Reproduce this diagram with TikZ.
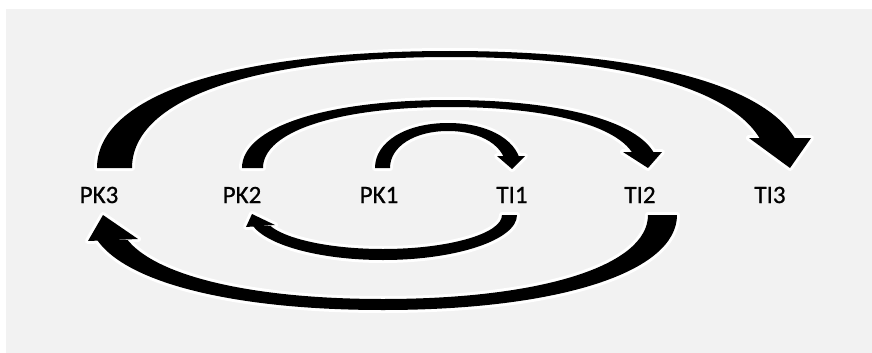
\documentclass[tikz,border=0pt]{standalone}
\usepackage{fontspec}
\setmainfont{Carlito}
\newfontfamily\lblfont[FakeBold=0.8]{Carlito}
\definecolor{panel}{HTML}{F2F2F2}

% #1 clip region, #2 tapered shaft, #3 arrow head
\newcommand\bandarrow[3]{%
  \begin{scope}\clip #1; \path[halo] #2; \end{scope}
  \path[halo] #3;
  \begin{scope}\clip #1; \fill[black] #2; \end{scope}
  \fill[black] #3;}

\begin{document}
\begin{tikzpicture}[x=1pt,y=-1pt,
  halo/.style={draw=white,line width=6pt,line join=round},
  lbl/.style={font=\lblfont\fontsize{25}{30}\selectfont,inner sep=0pt,text=black}]
\useasboundingbox (0,0) rectangle (872,353);
\fill[white] (0,0) rectangle (872,353);
\fill[panel] (6,9) rectangle (872,353);

% labels
\node[lbl] (PK3) at (99,195) {PK3};
\node[lbl] (PK2) at (242,195) {PK2};
\node[lbl] (PK1) at (379,195) {PK1};
\node[lbl] (TI1) at (512,195) {TI1};
\node[lbl] (TI2) at (640,195) {TI2};
\node[lbl] (TI3) at (770,195) {TI3};

% PK3 -> TI3 (outer, over the top)
\bandarrow{(0,0) rectangle (450,353) (450,0) rectangle (872,138)}
{(97,168) .. controls (97,95.46) and (231.14,51) .. (450,51)
  .. controls (668.86,51) and (803,95.46) .. (803,168)
  -- (768,168) .. controls (768,99.18) and (647.16,57) .. (450,57)
  .. controls (252.84,57) and (132,99.18) .. (132,168) -- cycle}
{(749,138) -- (811,138) -- (790,168) -- cycle}

% PK2 -> TI2 (middle, over the top)
\bandarrow{(0,0) rectangle (450,353) (450,0) rectangle (872,152)}
{(242,168) .. controls (242,127.2) and (325.2,100) .. (450,100)
  .. controls (574.8,100) and (658,127.2) .. (658,168)
  -- (637,168) .. controls (637,131.4) and (562.2,107) .. (450,107)
  .. controls (337.8,107) and (263,131.4) .. (263,168) -- cycle}
{(623,152) -- (662,152) -- (648,168) -- cycle}

% PK1 -> TI1 (inner, over the top)
\bandarrow{(0,0) rectangle (448,353) (448,0) rectangle (872,156)}
{(375,168) .. controls (375,141.9) and (405.66,123) .. (448,123)
  .. controls (490.34,123) and (521,141.9) .. (521,168)
  -- (506,168) .. controls (506,146.54) and (481.64,131) .. (448,131)
  .. controls (414.36,131) and (390,146.54) .. (390,168) -- cycle}
{(497,156) -- (525,156) -- (512,169) -- cycle}

% TI1 -> PK2 (inner, underneath)
\bandarrow{(383,0) rectangle (872,353) (0,226) rectangle (383,353)}
{(517,215) .. controls (517,239.75) and (456.7,260) .. (383,260)
  .. controls (309.3,260) and (249,239.75) .. (249,215)
  -- (264,215) .. controls (264,233.7) and (317.55,249) .. (383,249)
  .. controls (448.45,249) and (502,233.7) .. (502,215) -- cycle}
{(246,227) -- (275,225) -- (252,214) -- cycle}

% TI2 -> PK3 (outer, underneath)
\bandarrow{(383,0) rectangle (872,353) (0,240) rectangle (383,353)}
{(677,215) .. controls (677,272) and (559.4,310) .. (383,310)
  .. controls (206.6,310) and (89,272) .. (89,215)
  -- (118,215) .. controls (118,265.4) and (224,299) .. (383,299)
  .. controls (542,299) and (648,265.4) .. (648,215) -- cycle}
{(88,241) -- (138,239) -- (103,215) -- cycle}
\end{tikzpicture}
\end{document}
